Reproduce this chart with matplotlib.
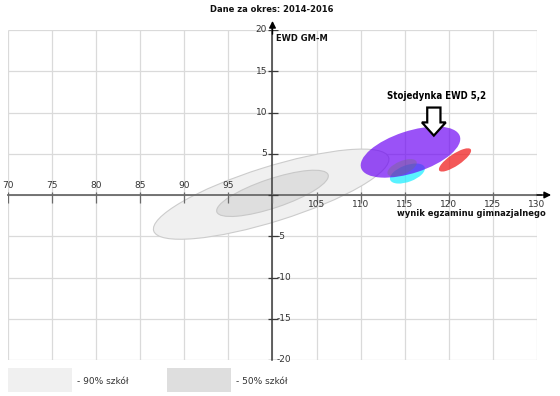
import matplotlib
matplotlib.use("Agg")
import matplotlib.pyplot as plt
from matplotlib.patches import Ellipse, FancyArrow, Rectangle

# grid / tick values
x_ticks = [70, 75, 80, 85, 90, 95, 100, 105, 110, 115, 120, 125, 130]
y_ticks = [-20, -15, -10, -5, 0, 5, 10, 15, 20]

# grey reference regions: centre, full width, full height, angle (deg)
region_labels = ["- 90% szkół", "- 50% szkół"]
region_cx = [99.85, 100.0]
region_cy = [0.1, 0.2]
region_w = [28.1, 13.4]
region_h = [6.6, 3.5]
region_angle = [18.6, 19.8]

# school ellipses (drawn in this order)
school_cx = [115.3, 115.65, 114.7, 120.7]
school_cy = [2.6, 5.2, 3.3, 4.25]
school_w = [4.2, 11.85, 3.6, 4.4]
school_h = [2.0, 5.06, 1.6, 1.4]
school_angle = [22, 19.5, 25, 36]

# pointer to the school
pointer_x = 118.3
pointer_top = 10.6
pointer_tip = 7.2
pointer_text = "Stojedynka EWD 5,2"

region_colors = ["#f0f0f0", "#dedede"]
region_edges = ["#cccccc", "#c8c8c8"]
school_colors = ["#22eeff", "#6a00f4", "#707070", "#f02020"]
school_alpha = [0.75, 0.68, 0.35, 0.75]

fig = plt.figure(figsize=(5.6, 3.96), dpi=100)
ax = fig.add_axes([8 / 560, 1 - 360 / 396, 529 / 560, 330 / 396])
ax.set_xlim(70, 130)
ax.set_ylim(-20, 20)
ax.axis("off")

grid_col = "#dadada"
ax.vlines(x_ticks, -20, 20, color=grid_col, lw=0.9, zorder=0)
ax.hlines(y_ticks, 70, 130, color=grid_col, lw=0.9, zorder=0)

for i in range(len(region_cx)):
    ax.add_patch(Ellipse((region_cx[i], region_cy[i]), region_w[i], region_h[i],
                         angle=region_angle[i], fc=region_colors[i],
                         ec=region_edges[i], lw=0.8, zorder=1 + i))

for i in range(len(school_cx)):
    ax.add_patch(Ellipse((school_cx[i], school_cy[i]), school_w[i], school_h[i],
                         angle=school_angle[i], fc=school_colors[i],
                         alpha=school_alpha[i], lw=0, zorder=4 + i))

# main axes: grey lines, black arrow heads
ax.plot([70, 130.5], [0, 0], color="#6a6a6a", lw=1.3, zorder=10, clip_on=False)
ax.plot([100, 100], [-20, 20.5], color="#3a3a3a", lw=1.1, zorder=10, clip_on=False)
ax.annotate("", xy=(131.6, 0), xytext=(130.0, 0), annotation_clip=False,
            arrowprops=dict(arrowstyle="-|>", color="black", lw=1.0,
                            mutation_scale=10, shrinkA=0, shrinkB=0), zorder=11)
ax.annotate("", xy=(100, 21.1), xytext=(100, 19.5), annotation_clip=False,
            arrowprops=dict(arrowstyle="-|>", color="black", lw=1.0,
                            mutation_scale=10, shrinkA=0, shrinkB=0), zorder=11)
ax.vlines(x_ticks, -0.95, 0.35, color="#6a6a6a", lw=0.9, zorder=10)
ax.hlines(y_ticks, 99.45, 100.6, color="#3a3a3a", lw=0.9, zorder=10)

lab = dict(fontsize=6.5, color="#333333", zorder=11)
for x in x_ticks:
    if x < 100:
        ax.text(x, 1.1, str(x), ha="center", va="center", **lab)
    elif x > 100:
        ax.text(x, -1.1, str(x), ha="center", va="center", **lab)
for y in y_ticks:
    if y > 0:
        ax.text(99.4, y, str(y), ha="right", va="center", **lab)
    elif y < 0:
        ax.text(100.5, y, str(y), ha="left", va="center", **lab)

bold = dict(fontsize=6, fontweight="bold", color="#111111")
fig.text(272 / 560, 1 - 9 / 396, "Dane za okres: 2014-2016", ha="center",
         va="center", **bold)
ax.text(100.4, 19.0, "EWD GM-M", ha="left", va="center", **bold)
ax.text(131.0, -2.2, "wynik egzaminu gimnazjalnego", ha="right", va="center",
        clip_on=False, **bold)

ax.add_patch(FancyArrow(pointer_x, pointer_top, 0, pointer_tip - pointer_top,
                        width=1.5, head_width=2.7, head_length=1.6,
                        length_includes_head=True, fc="white", ec="black",
                        lw=1.6, zorder=12))
ax.text(118.6, 12.0, pointer_text, ha="center", va="center",
        fontsize=6.9, family="DejaVu Sans", fontstretch="condensed",
        fontweight="bold", color="black", zorder=12)

# legend boxes below the chart
legend_x = [8, 167]
for i in range(len(region_labels)):
    fig.patches.append(Rectangle((legend_x[i] / 560, 1 - 392 / 396), 64 / 560,
                                 24 / 396, transform=fig.transFigure,
                                 fc=region_colors[i], ec="none"))
    fig.text((legend_x[i] + 69) / 560, 1 - 381 / 396, region_labels[i],
             ha="left", va="center", fontsize=6.5, color="#333333")

fig.savefig("out.png", dpi=100, facecolor="white")
